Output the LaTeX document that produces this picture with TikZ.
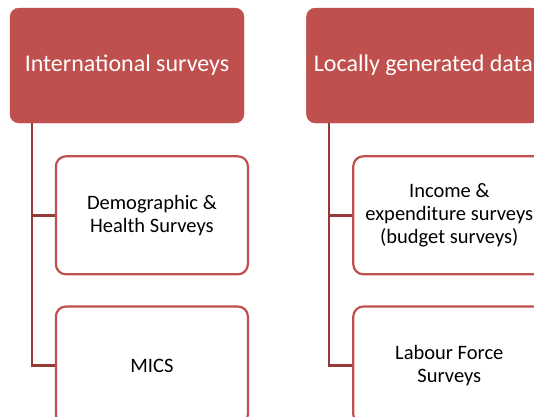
\documentclass[tikz,border=0pt]{standalone}
\usepackage{fontspec}
\setmainfont{Carlito}
\usetikzlibrary{positioning}
\definecolor{accentred}{RGB}{192,80,77}
\definecolor{linkred}{RGB}{150,58,56}
\tikzset{header/.style={fill=accentred,draw=accentred,rounded corners=9pt,text=white,
    minimum width=234pt,minimum height=115pt,font=\fontsize{24}{28}\selectfont}}

\begin{document}
\begin{tikzpicture}
  \tikzset{leaf/.style={fill=white,draw=accentred,line width=2.2pt,rounded corners=10pt,
      minimum width=192pt,minimum height=118pt,align=center,font=\fontsize{20.5}{23}\selectfont}}
  \tikzset{link/.style={draw=linkred,line width=2.4pt}}

  \useasboundingbox[fill=white] (0,0) rectangle (534pt,-416pt);

  \node[header] (intl) at (127pt,-65.5pt) {International surveys};
  \node[header,right=62pt of intl] (local) {Locally generated data};

  \node[leaf,anchor=north west] (dhs) at ([xshift=45pt,yshift=-32pt]intl.south west) {Demographic \&\\Health Surveys};
  \node[leaf,below=30pt of dhs] (mics) {MICS};
  \node[leaf,anchor=north west] (ies) at ([xshift=46pt,yshift=-32pt]local.south west) {Income \&\\expenditure surveys\\(budget surveys)};
  \node[leaf,below=30pt of ies] (lfs) {Labour Force\\Surveys};

  % tree links
  \draw[link] ([xshift=22pt]intl.south west) |- (dhs.west);
  \draw[link] ([xshift=22pt]intl.south west) |- (mics.west);
  \draw[link] ([xshift=23pt]local.south west) |- (ies.west);
  \draw[link] ([xshift=23pt]local.south west) |- (lfs.west);
\end{tikzpicture}
\end{document}
